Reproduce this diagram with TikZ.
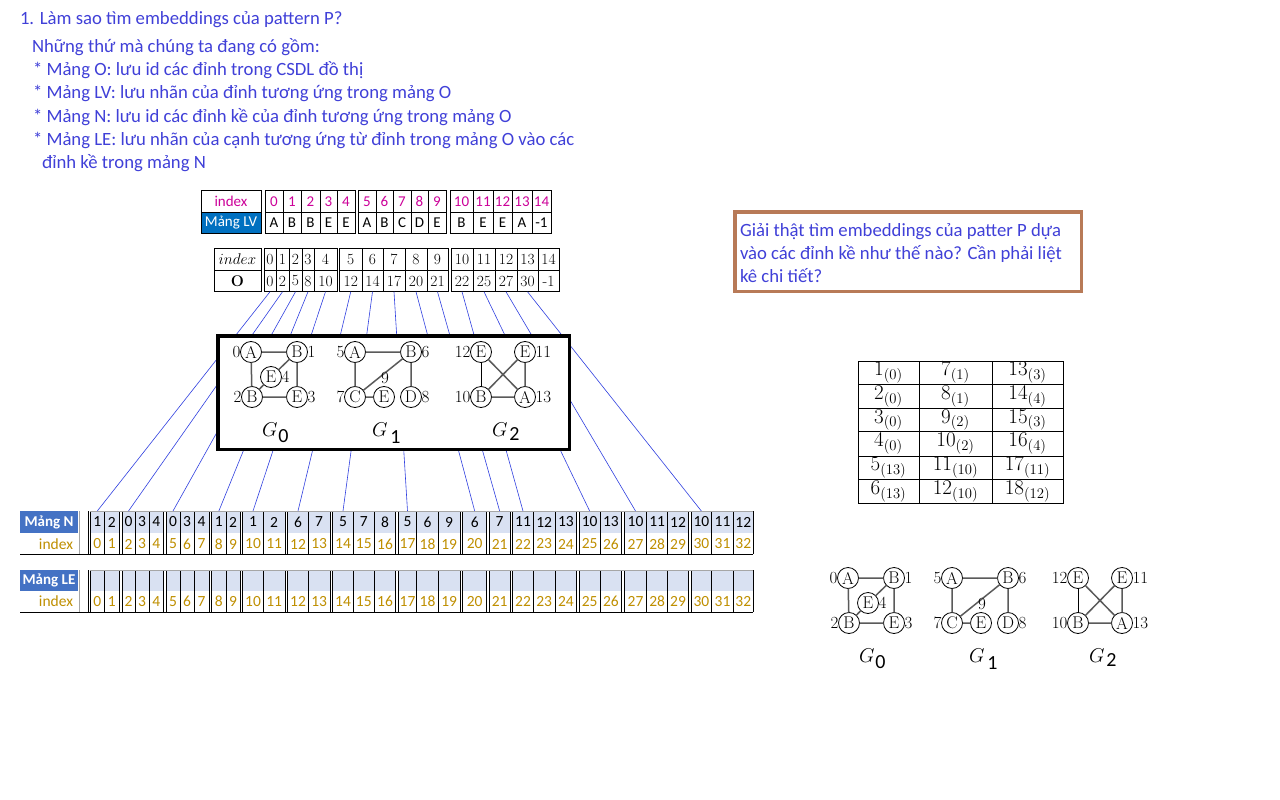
\RequirePackage{fix-cm}
\documentclass[tikz,border=0pt]{standalone}
\usepackage{fontspec}
\newfontfamily\carlito{Carlito}
\definecolor{txtblue}{RGB}{64,64,216}
\definecolor{lnblue}{RGB}{48,64,224}
\definecolor{magen}{RGB}{204,0,153}
\definecolor{lvblue}{RGB}{0,112,192}
\definecolor{nblue}{RGB}{68,114,196}
\definecolor{cellblue}{RGB}{217,225,242}
\definecolor{gold}{RGB}{191,143,0}
\definecolor{brownb}{RGB}{184,122,87}
\definecolor{edgegray}{RGB}{90,90,90}
\tikzset{
 every node/.style={inner sep=0pt, outer sep=0pt},
 note/.style={anchor=base west, text=txtblue, font=\carlito\fontsize{18.7}{22}\selectfont},
 grid/.style={draw=black, line width=0.6pt},
 lvc/.style={grid, minimum height=21.5pt, font=\carlito\fontsize{15}{17}\selectfont},
 oc/.style={grid, minimum height=21.5pt, font=\fontsize{15.5}{17}\selectfont},
 ncell/.style={fill=cellblue, font=\carlito\fontsize{15.5}{17}\selectfont},
 icell/.style={text=gold, font=\carlito\fontsize{15.5}{17}\selectfont},
 conn/.style={draw=lnblue, line width=0.6pt},
 vtx/.style={circle, draw=black, line width=0.8pt, minimum size=21pt, fill=white, font=\fontsize{17}{19}\selectfont},
 vlab/.style={font=\fontsize{17}{19}\selectfont},
 gedge/.style={draw=edgegray, line width=1.5pt},
 glab/.style={anchor=base west, font=\fontsize{20}{24}\selectfont},
 tcell/.style={font=\fontsize{21}{23}\selectfont},
 graphs/.pic={
  % G0
  \node[vtx] (-a0) at (251,352) {A};
  \node[vtx] (-b1) at (297,352) {B};
  \node[vtx] (-e4) at (271,377) {E};
  \node[vtx] (-b2) at (252,397) {B};
  \node[vtx] (-e3) at (297,397) {E};
  \draw[gedge] (-a0)--(-b1) (-a0)--(-b2) (-b1)--(-e3) (-b2)--(-e3) (-b1)--(-e4) (-e4)--(-b2);
  \node[vlab, anchor=east] (-l0) at (-a0.west) {0};
  \node[vlab, anchor=west] (-l1) at (-b1.east) {1};
  \node[vlab, anchor=west] (-l4) at (-e4.east) {4};
  \node[vlab, anchor=east] (-l2) at (-b2.west) {2};
  \node[vlab, anchor=west] (-l3) at (-e3.east) {3};
  % G1
  \node[vtx] (-a5) at (355,352) {A};
  \node[vtx] (-b6) at (411,352) {B};
  \node[vtx] (-c7) at (355,397) {C};
  \node[vtx] (-e9) at (384,397) {E};
  \node[vtx] (-d8) at (411,397) {D};
  \draw[gedge] (-a5)--(-b6) (-a5)--(-c7) (-b6)--(-d8) (-c7)--(-b6) (-c7)--(-e9);
  \node[vlab, anchor=east] (-l5) at (-a5.west) {5};
  \node[vlab, anchor=west] (-l6) at (-b6.east) {6};
  \node[vlab, anchor=east] (-l7) at (-c7.west) {7};
  \node[vlab, anchor=west] (-l8) at (-d8.east) {8};
  \node[vlab] (-l9) at (385,378) {9};
  % G2
  \node[vtx] (-e12) at (481,352) {E};
  \node[vtx] (-e11) at (525,352) {E};
  \node[vtx] (-b10) at (481,397) {B};
  \node[vtx] (-a13) at (525,397) {A};
  \draw[draw=black, line width=0.8pt] (-e12)--(-b10);
  \draw[gedge] (-e11)--(-a13) (-b10)--(-a13) (-e12)--(-a13) (-e11)--(-b10);
  \node[vlab, anchor=east] (-l12) at (-e12.west) {12};
  \node[vlab, anchor=west] (-l11) at (-e11.east) {11};
  \node[vlab, anchor=east] (-l10) at (-b10.west) {10};
  \node[vlab, anchor=west] (-l13) at (-a13.east) {13};
  % labels
  \node[glab] (-g0) at (262,436) {$G$\kern1pt\raisebox{-6pt}{\carlito 0}};
  \node[glab] (-g1) at (372,436) {$G$\kern3pt\raisebox{-7pt}{\carlito 1}};
  \node[glab] (-g2) at (492,436) {$G$\kern2pt\raisebox{-4pt}{\carlito 2}};
 }
}
\begin{document}
\begin{tikzpicture}[x=1pt,y=-1pt]
\useasboundingbox (0,0) rectangle (1280,800);
\fill[white] (0,0) rectangle (1280,800);

% ---- notes
\node[note] (t1) at (20,25) {1. Làm sao tìm embeddings của pattern P?};
\node[note] (t2) at (32,53) {Những thứ mà chúng ta đang có gồm:};
\node[note] (t3) at (33,76) {* Mảng O: lưu id các đỉnh trong CSDL đồ thị};
\node[note] (t4) at (33,99) {* Mảng LV: lưu nhãn của đỉnh tương ứng trong mảng O};
\node[note] (t5) at (33,122) {* Mảng N: lưu id các đỉnh kề của đỉnh tương ứng trong mảng O};
\node[note] (t6) at (33,145) {* Mảng LE: lưu nhãn của cạnh tương ứng từ đỉnh trong mảng O vào các};
\node[note] (t7) at (42,168) {đỉnh kề trong mảng N};

% ---- question box
\node[draw=brownb, line width=3.5pt, minimum width=346.5pt, minimum height=79.5pt] (qbox) at (908,251.5) {};
\node[note] (q1) at (740,236) {Giải thật tìm embeddings của patter P dựa};
\node[note] (q2) at (740,259) {vào các đỉnh kề như thế nào? Cần phải liệt};
\node[note] (q3) at (740,282) {kê chi tiết?};

% ---- LV table
\node[lvc, minimum width=60pt, text=magen] (lvidx) at (231,201.5) {index};
\node[lvc, minimum width=60pt, fill=lvblue, text=white] (lvlab) at (231,223) {Mảng LV};
\foreach \k/\xa/\xb/\vv in {0/265/283/A,1/283/301/B,2/301/320/B,3/320/337/E,4/337/355/E,5/358/376/A,6/376/393/B,7/393/411/C,8/411/428/D,9/428/446/E,10/450/473/B,11/473/493/E,12/493/512/E,13/512/532/A,14/532/551/-1}{
  \node[lvc, minimum width={(\xb-\xa)*1pt}, text=magen] (lvi\k) at ({(\xa+\xb)/2},201.5) {\k};
  \node[lvc, minimum width={(\xb-\xa)*1pt}] (lv\k) at ({(\xa+\xb)/2},223) {\vv};
}

% ---- O table
\node[oc, minimum width=47pt] (oidx) at (237.5,259.5) {$index$};
\node[oc, minimum width=47pt] (olab) at (237.5,281) {\textbf{O}};
\foreach \k/\xa/\xb/\vv in {0/264/276/0,1/276/289/2,2/289/302/5,3/302/314/8,4/314/337/10,5/339.5/362/12,6/362/383/14,7/383/405/17,8/405/427/20,9/427/448/21,10/451/473/22,11/473/495/25,12/495/517/27,13/517/538/30,14/538/559/-1}{
  \node[oc, minimum width={(\xb-\xa)*1pt}] (oi\k) at ({(\xa+\xb)/2},259.5) {\k};
  \node[oc, minimum width={(\xb-\xa)*1pt}] (O\k) at ({(\xa+\xb)/2},281) {\vv};
}

% ---- N and LE tables
\node[fill=nblue, text=white, minimum width=58pt, minimum height=22pt, font=\carlito\bfseries\fontsize{15}{17}\selectfont] (nlab) at (49,522) {Mảng N};
\node[icell, anchor=east] (nidx) at (73,544) {index};
\node[fill=nblue, text=white, minimum width=58pt, minimum height=21pt, font=\carlito\bfseries\fontsize{15}{17}\selectfont] (lelab) at (49,580.5) {Mảng LE};
\node[icell, anchor=east] (leidx) at (73,601.5) {index};
\foreach \k/\xa/\xb/\vv in {0/90.3/104.3/1,1/104.3/119.3/2,2/122/135/0,3/135/149.3/3,4/149.3/163.5/4,5/166/180/0,6/180/194.3/3,7/194.3/209/4,8/211.7/226/1,9/226/240/2,10/242.7/263.3/1,11/263.3/285/2,12/287.7/308.3/6,13/308.3/330/7,14/332.7/353.3/5,15/353.3/374.3/7,16/374.3/395.7/8,17/398.3/416.7/5,18/416.7/438.3/6,19/438.3/460/9,20/462.7/486.7/6,21/489.3/510/7,22/512.7/533.3/11,23/533.3/555/12,24/555/576.7/13,25/579.3/600/10,26/600/621.7/13,27/624.3/646.7/10,28/646.7/667.7/11,29/667.7/688.3/12,30/691/711.7/10,31/711.7/733.3/11,32/733.3/753.3/12}{
  \node[ncell, minimum width={(\xb-\xa)*1pt}, minimum height=22pt] (N\k) at ({(\xa+\xb)/2},522) {\vv};
  \node[icell, minimum width={(\xb-\xa)*1pt}, minimum height=21pt] (Ni\k) at ({(\xa+\xb)/2},544) {\k};
  \node[ncell, minimum width={(\xb-\xa)*1pt}, minimum height=21pt] (LE\k) at ({(\xa+\xb)/2},580.5) {};
  \node[icell, minimum width={(\xb-\xa)*1pt}, minimum height=21pt] (LEi\k) at ({(\xa+\xb)/2},601.5) {\k};
  \draw[grid] (\xa,511)--(\xa,554) (\xb,511)--(\xb,554) (\xa,570)--(\xa,612) (\xb,570)--(\xb,612);
}
\draw[draw=black!35, line width=0.6pt] (79.5,511)--(79.5,554) (79.5,570)--(79.5,612) (90,511)--(753.3,511) (90,570)--(753.3,570);
\draw[grid] (88,511)--(88,554) (88,570)--(88,612);
\draw[draw=black, line width=1pt] (20,554)--(753.3,554) (20,612)--(753.3,612);

% ---- connectors O -> N
\foreach \k/\vv in {0/0,1/2,2/5,3/8,4/10,5/12,6/14,7/17,8/20,9/21,10/22,11/25,12/27,13/30}{
  \draw[conn] (O\k.south) -- (N\vv.north);
}

% ---- graph box
\node[draw=black, line width=3.5pt, fill=white, minimum width=351.5pt, minimum height=113.5pt] (gbox) at (393.5,392.5) {};
\pic (top) at (0,0) {graphs};
\pic (bot) at (597,226) {graphs};

% ---- right table
\draw[grid] (858,361) rectangle (1063,503);
\draw[grid] (919,361)--(919,503) (992,361)--(992,503);
\foreach \yy in {384.3,408.3,431.7,456,479.3}{\draw[grid] (858,\yy)--(1063,\yy);}
\foreach \rw/\yy/\ca/\cb/\cc in {1/372.7/1_{(0)}/7_{(1)}/13_{(3)},2/396.3/2_{(0)}/8_{(1)}/14_{(4)},3/420/3_{(0)}/9_{(2)}/15_{(3)},4/443.8/4_{(0)}/10_{(2)}/16_{(4)},5/467.7/5_{(13)}/11_{(10)}/17_{(11)},6/491.3/6_{(13)}/12_{(10)}/18_{(12)}}{
  \node[tcell] (ta\rw) at (888.5,\yy) {$\ca$};
  \node[tcell] (tb\rw) at (955.5,\yy) {$\cb$};
  \node[tcell] (tc\rw) at (1027.5,\yy) {$\cc$};
}
\end{tikzpicture}
\end{document}
